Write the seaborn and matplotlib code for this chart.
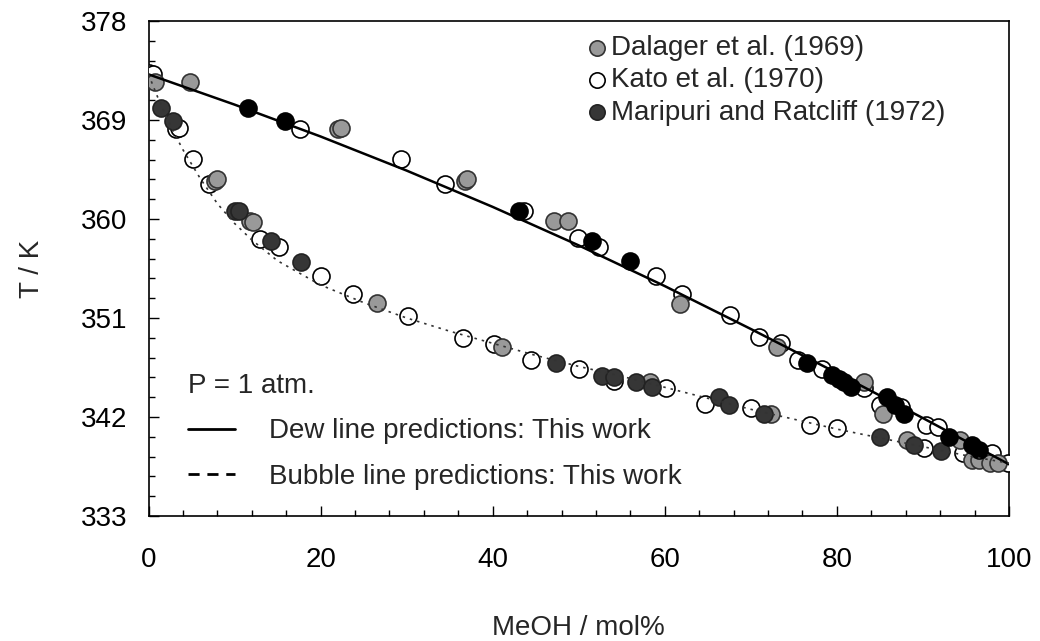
import numpy as np
import pandas as pd
import matplotlib
matplotlib.use("Agg")
import matplotlib.pyplot as plt
from matplotlib.lines import Line2D
import seaborn as sns

# ---------------- data ----------------
dew_x = [0, 10, 20, 30, 40, 50, 60, 70, 80, 90, 100]
dew_T = [373.15, 370.4, 367.5, 364.4, 361.1, 357.6, 353.9, 350.0, 346.0, 341.9, 337.7]

bub_x = [0, 1, 2, 3, 4, 5, 6, 8, 10, 12, 15, 20, 25, 30, 35, 40, 45, 50, 55, 60,
         65, 70, 75, 80, 85, 90, 95, 100]
bub_T = [373.15, 371.2, 369.4, 367.8, 366.3, 365.0, 363.7, 361.4, 359.6, 358.1, 356.2,
         354.0, 352.4, 351.0, 349.8, 348.7, 347.6, 346.6, 345.7, 344.7, 343.7, 342.7,
         341.8, 340.9, 340.1, 339.3, 338.5, 337.8]

dalager_x = [0.7, 4.8, 22.0, 22.4, 36.8, 37.0, 47.1, 48.7, 61.8, 73.0, 83.1, 85.4, 94.3,
             7.7, 8.0, 11.8, 12.2, 26.6, 41.1, 58.3, 72.3, 88.1, 95.7, 96.5, 97.8, 98.7]
dalager_T = [372.5, 372.5, 368.2, 368.3, 363.5, 363.6, 359.8, 359.8, 352.3, 348.4, 345.2, 342.3, 339.9,
             363.5, 363.6, 359.8, 359.7, 352.4, 348.4, 345.2, 342.3, 339.9, 338.1, 338.1, 337.8, 337.8]

kato_x = [0.0, 0.5, 17.6, 29.4, 34.4, 43.6, 49.9, 52.3, 59.0, 62.0, 67.6, 71.0, 73.5, 75.5,
          78.3, 83.1, 85.0, 87.5, 90.4, 91.8, 98.0, 99.9,
          3.2, 3.6, 5.2, 7.0, 13.0, 15.2, 20.1, 23.8, 30.1, 36.6, 40.1, 44.5, 50.0, 54.1,
          60.1, 64.7, 70.0, 76.9, 80.0, 90.1, 94.7]
kato_T = [373.3, 373.2, 368.2, 365.5, 363.2, 360.7, 358.3, 357.5, 354.8, 353.2, 351.3, 349.3, 348.7, 347.2,
          346.4, 344.6, 343.1, 342.9, 341.3, 341.1, 338.7, 337.8,
          368.2, 368.3, 365.5, 363.2, 358.2, 357.5, 354.8, 353.2, 351.2, 349.2, 348.6, 347.2, 346.4, 345.3,
          344.6, 343.2, 342.8, 341.3, 341.0, 339.2, 338.7]

maripuri_dew_x = [11.6, 15.9, 43.1, 51.5, 56.0, 76.5, 79.4, 80.2, 80.8, 81.6, 85.8, 86.8, 87.8,
                  93.0, 95.7, 96.5]
maripuri_dew_T = [370.1, 368.9, 360.7, 358.0, 356.2, 346.9, 345.8, 345.5, 345.2, 344.7, 343.8, 343.1, 342.3,
                  340.2, 339.5, 339.0]
maripuri_bub_x = [1.4, 2.9, 10.1, 10.5, 14.2, 17.7, 47.4, 52.7, 54.1, 56.6, 58.5, 66.3, 67.5, 71.5,
                  85.0, 89.0, 92.1]
maripuri_bub_T = [370.1, 368.9, 360.7, 360.7, 358.0, 356.1, 346.9, 345.7, 345.6, 345.2, 344.7, 343.8, 343.1,
                  342.3, 340.2, 339.5, 338.9]

x_ticks = [0, 20, 40, 60, 80, 100]
y_ticks = [333, 342, 351, 360, 369, 378]

# ---------------- style ----------------
sns.set_theme(style="white")
plt.rcParams["font.family"] = ["Liberation Sans", "DejaVu Sans"]
FS = 20

fig = plt.figure(figsize=(10.4, 6.41), dpi=100)
ax = fig.add_axes([148.5 / 1040, 1 - 516 / 641, (1009 - 148.5) / 1040, (516 - 21) / 641])

ms = 150
ew = 1.2
sns.scatterplot(x=kato_x, y=kato_T, ax=ax, s=ms, color="white", edgecolor="black",
                linewidth=ew, label="Kato et al. (1970)", zorder=3)
sns.scatterplot(x=dalager_x, y=dalager_T, ax=ax, s=ms, color="#999999", edgecolor="#333333",
                linewidth=ew, label="Dalager et al. (1969)", zorder=3)
sns.scatterplot(x=maripuri_bub_x, y=maripuri_bub_T, ax=ax, s=ms, color="#363636", edgecolor="#222222",
                linewidth=ew, label="Maripuri and Ratcliff (1972)", zorder=3)
sns.scatterplot(x=maripuri_dew_x, y=maripuri_dew_T, ax=ax, s=ms, color="black", edgecolor="black",
                linewidth=ew, zorder=3)

sns.lineplot(x=dew_x, y=dew_T, ax=ax, color="black", linewidth=1.8, sort=False,
             estimator=None, zorder=4)
sns.lineplot(x=bub_x, y=bub_T, ax=ax, color="#333333", linewidth=1.2, sort=False,
             estimator=None, zorder=4, linestyle=(0, (1.5, 3)))

ax.set_xlim(0, 100)
ax.set_ylim(333, 378)
ax.set_xticks(x_ticks)
ax.set_yticks(y_ticks)
ax.set_xticks(np.arange(0, 101, 4), minor=True)
ax.set_yticks(np.arange(333, 378.01, 1.8), minor=True)
ax.tick_params(axis="both", which="both", direction="in", colors="black",
               bottom=True, left=True, top=False, right=False, labelsize=FS)
ax.tick_params(axis="both", which="major", length=7, width=1.0)
ax.tick_params(axis="both", which="minor", length=4.5, width=1.0)
ax.tick_params(axis="x", which="major", pad=22)
ax.tick_params(axis="y", which="major", pad=15)
for sp in ax.spines.values():
    sp.set_color("black")
    sp.set_linewidth(1.2)

ax.set_xlabel("MeOH / mol%", fontsize=FS)
ax.set_ylabel("T / K", fontsize=FS)
ax.xaxis.set_label_coords(0.5, -0.199)
ax.yaxis.set_label_coords(-0.12, 0.5)

# legend for data sets
handles, labels = ax.get_legend_handles_labels()
order = ["Dalager et al. (1969)", "Kato et al. (1970)", "Maripuri and Ratcliff (1972)"]
hmap = dict(zip(labels, handles))
leg1 = ax.legend([hmap[k] for k in order], order, loc="upper left",
                 bbox_to_anchor=((588 - 148.5) / 861, 1 - (35 - 21) / 495),
                 frameon=False, fontsize=FS, markerscale=0.9, handletextpad=0.15,
                 handlelength=0.7, borderpad=0, borderaxespad=0, labelspacing=0.23)
ax.add_artist(leg1)

line_handles = [Line2D([], [], color="black", linewidth=2.0),
                Line2D([], [], color="black", linewidth=2.0, linestyle=(0, (4.0, 2.8)))]
leg2 = ax.legend(line_handles, ["Dew line predictions: This work",
                                "Bubble line predictions: This work"],
                 title="P = 1 atm.", title_fontsize=FS, alignment="left",
                 loc="upper left", bbox_to_anchor=((188 - 148.5) / 861, 1 - (373 - 21) / 495),
                 frameon=False, fontsize=FS, handlelength=1.7, handletextpad=1.2,
                 borderpad=0, borderaxespad=0, labelspacing=0.7)

fig.savefig("out.png", dpi=100, facecolor="white")
